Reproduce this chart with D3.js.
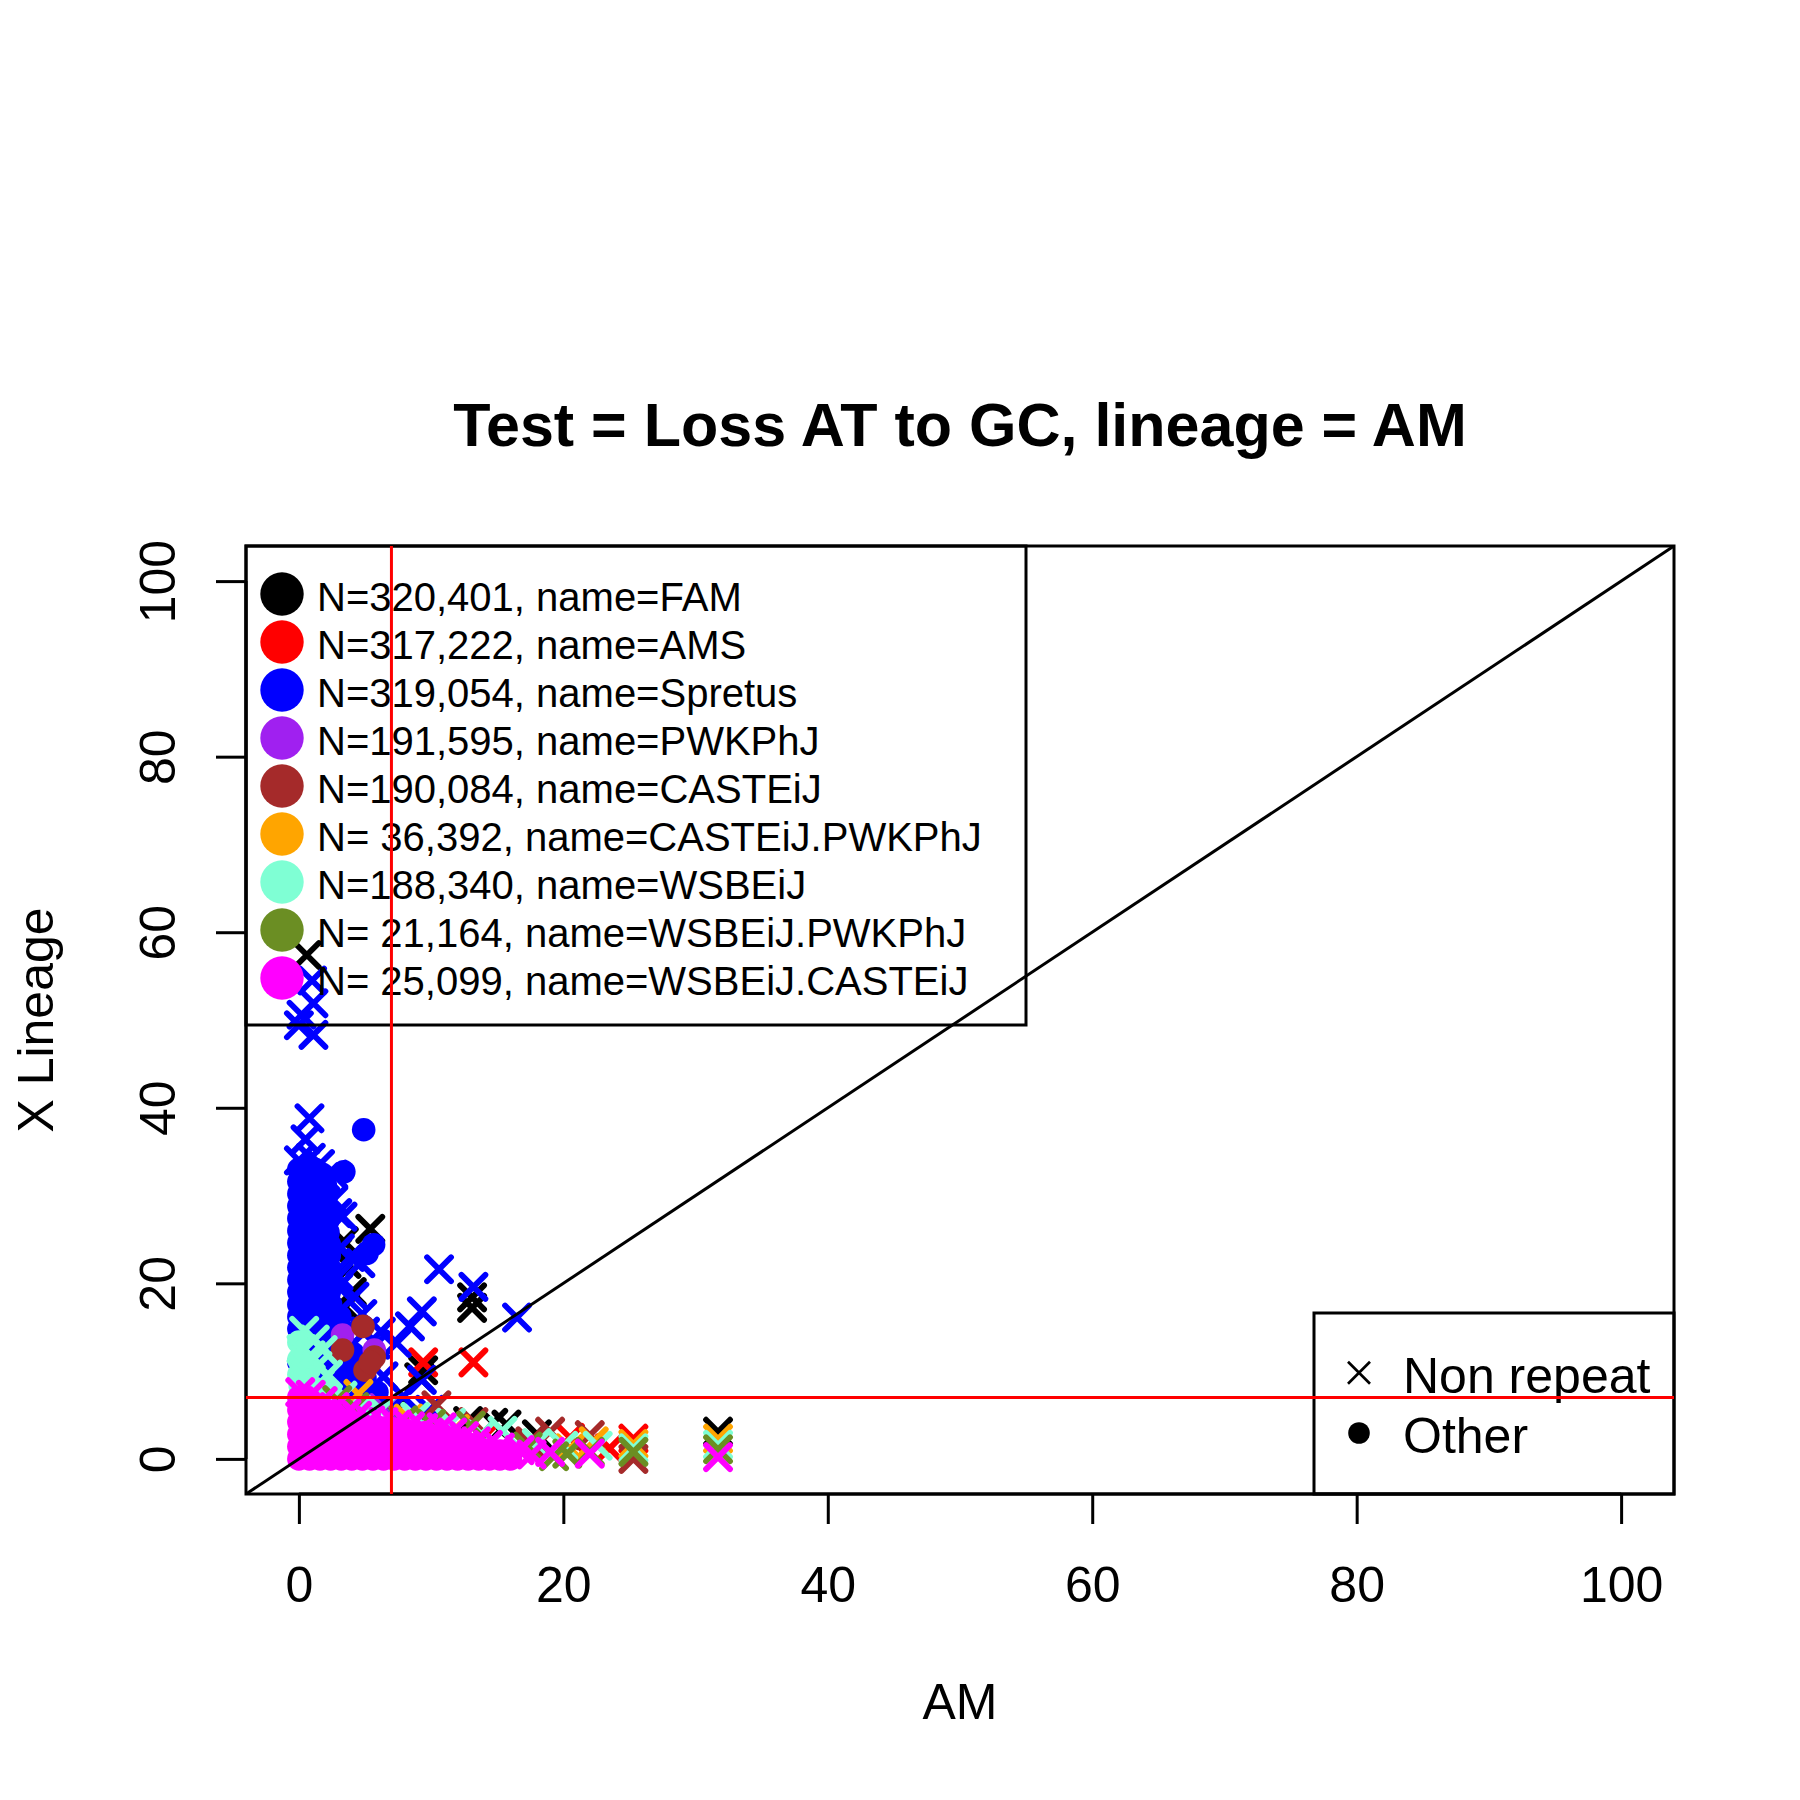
<!DOCTYPE html>
<html>
<head>
<meta charset="utf-8">
<script src="https://cdn.jsdelivr.net/npm/d3@7"></script>
<style>
  html, body { margin: 0; padding: 0; background: #fff; }
  svg { display: block; }
  text { font-family: "Liberation Sans", Arial, Helvetica, sans-serif; }
</style>
</head>
<body>
<svg id="chart" width="1800" height="1800"></svg>
<script>
// ---------------- data ----------------
const title = "Test = Loss AT to GC, lineage = AM";
const xLabel = "AM";
const yLabel = "X Lineage";
const xTicks = [0, 20, 40, 60, 80, 100];
const yTicks = [0, 20, 40, 60, 80, 100];
const thresholdX = 7;
const thresholdY = 7;

const seriesNames = ["FAM", "AMS", "Spretus", "PWKPhJ", "CASTEiJ", "CASTEiJ.PWKPhJ", "WSBEiJ", "WSBEiJ.PWKPhJ", "WSBEiJ.CASTEiJ"];
const seriesCounts = ["320,401", "317,222", "319,054", "191,595", "190,084", " 36,392", "188,340", " 21,164", " 25,099"];
const seriesColors = ["#000000", "#FF0000", "#0000FF", "#A020F0", "#A52A2A", "#FFA500", "#7FFFD4", "#6B8E23", "#FF00FF"];
const shapeLabels = ["Non repeat", "Other"];

// FAM
const famX = [[0.6,57.4],[1.9,26.1],[5.4,26.2],[3.4,24.8],[2.9,23.6],[3.6,22.2],[3.0,20.6],[4.0,19.0],[3.5,17.3],
  [13.1,18.4],[13.1,17.2],[9.4,10.1],[9.1,9.3],[12.8,4.3],[14.7,4.1],[15.7,3.9],[18.0,2.8],[31.7,3.1],[11.0,3.6],[7.0,5.0]];
const famDot = [[1.0,20.0],[0.5,15.0]];
// AMS
const amsX = [[9.4,11.0],[13.2,11.0],[25.3,2.3],[20.5,2.4],[17.5,1.6],[23.5,1.2],[14.0,2.5]];
const amsDot = [[1.0,5.0]];
// Spretus
const spretusDot = [
  [0,33.0],[0.6,33.2],[1.2,33.0],[1.8,32.4],
  [0,31.6],[0.6,31.6],[1.3,31.6],[2.0,31.2],
  [0,30.2],[0.7,30.2],[1.4,30.2],[2.1,30.0],
  [0,28.8],[0.7,28.8],[1.4,28.8],[2.1,28.6],
  [0,27.4],[0.7,27.4],[1.4,27.4],[2.2,27.2],
  [0,26.0],[0.7,26.0],[1.5,26.0],[2.2,25.8],
  [0,24.6],[0.7,24.6],[1.5,24.6],[2.3,24.4],
  [0,23.2],[0.7,23.2],[1.5,23.2],[2.3,23.2],
  [0,21.8],[0.7,21.8],[1.5,21.8],[2.3,21.8],
  [0,20.4],[0.7,20.4],[1.5,20.4],[2.3,20.4],
  [0,19.0],[0.7,19.0],[1.5,19.0],[2.3,19.0],
  [0,17.6],[0.7,17.6],[1.5,17.6],[2.4,17.6],
  [0,16.2],[0.8,16.2],[1.6,16.2],[2.4,16.2],[3.1,16.2],
  [0,14.8],[0.8,14.8],[1.6,14.8],[2.4,14.8],[3.2,14.8],
  [1.6,13.4],[2.4,13.4],[3.3,13.4],[0.8,12.6],
  [1.6,12.0],[2.4,12.0],[3.3,12.0],[4.1,12.0],
  [0,11.0],[2.4,10.6],[3.3,10.6],[4.2,10.6],[0.8,10.0],
  [1.6,9.4],[2.5,9.2],[3.4,9.2],[4.3,9.2],[5.0,9.2],
  [3.0,7.8],[4.0,7.8],[5.0,7.8],[5.9,7.6],
  [4.0,6.4],[5.0,6.4],[5.8,6.4],
  [4.9,37.5],[3.4,32.7],[5.65,24.4],[5.15,23.4]];
const spretusX = [[1.0,54.5],[1.1,51.9],[0.2,50.6],[0.0,49.4],[1.1,48.3],[0.8,38.8],[0.5,36.4],[0.0,34.0],
  [0.9,34.3],[1.6,33.6],[2.6,32.4],
  [2.0,32.1],[2.6,29.5],[3.3,27.6],[2.9,28.0],[3.1,24.0],[3.9,23.0],[4.65,22.3],[3.0,20.8],[3.0,19.6],
  [10.6,21.6],[13.2,19.6],[16.5,16.1],[9.3,16.8],[8.4,15.1],[6.2,14.5],[7.4,13.2],[5.8,13.0],
  [6.4,9.4],[9.3,9.0],[7.9,7.1],[9.9,5.6],[4.8,16.5],[4.2,18.5],[5.0,14.5]];
// PWKPhJ
const pwkX = [[6.4,5.8],[2.0,7.2]];
const pwkDot = [[3.3,14.1],[5.7,12.4]];
// CASTEiJ
const castX = [[10.4,6.1],[13.2,4.2],[19.0,3.1],[22.0,2.7],[25.3,0.0],[17.5,2.0],[1.5,7.5]];
const castDot = [[4.85,15.1],[3.3,12.4],[5.7,11.6],[5.0,10.1],[5.4,11.0]];
// CASTEiJ.PWKPhJ
const castPwkX = [[4.5,7.4],[8.3,4.6],[25.3,1.7],[31.7,2.3],[22.3,2.0],[20.5,1.2],[11.8,3.4]];
const castPwkDot = [[2.0,3.0]];
// WSBEiJ
const wsbX = [[0.4,14.6],[1.2,13.6],[0.2,12.5],[0.9,11.8],[1.8,12.4],[0.3,10.2],[1.4,10.6],[2.2,9.6],[0.6,9.0],
  [1.6,8.6],[3.3,7.2],[6.2,5.6],[8.8,4.8],[11.5,4.1],[15.4,3.2],[22.6,1.5],[25.3,1.2],[31.7,1.6],[18.0,1.8],
  [20.0,1.5],[13.8,2.8]];
const wsbDot = [[0,13.3],[0,11.3],[0,9.6],[0.8,10.2],[0.1,8.3],[1.2,8.0],[2.0,7.8],[2.6,7.0],[4.8,5.8]];
// WSBEiJ.PWKPhJ
const wsbPwkX = [[2.9,6.7],[4.2,5.9],[7.9,4.4],[13.0,3.8],[17.3,1.4],[20.3,0.6],[22.0,0.8],[25.3,0.8],
  [31.7,1.1],[19.3,0.3],[10.0,4.0]];
const wsbPwkDot = [[1.0,4.0]];
// WSBEiJ.CASTEiJ
const wsbCastDot = [
  [0,0],[0,1.4],[0,2.8],[0,4.2],[0,5.6],[0,7.0],
  [0.8,0],[0.8,1.4],[0.8,2.8],[0.8,4.2],[0.8,5.6],[0.8,6.8],
  [1.6,0],[1.6,1.4],[1.6,2.8],[1.6,4.2],[1.6,5.6],
  [2.4,0],[2.4,1.4],[2.4,2.8],[2.4,4.2],[2.4,5.2],
  [3.2,0],[3.2,1.4],[3.2,2.8],[3.2,4.2],
  [4.0,0],[4.0,1.4],[4.0,2.8],[4.0,4.0],
  [4.8,0],[4.8,1.4],[4.8,2.8],[4.8,3.8],
  [5.6,0],[5.6,1.4],[5.6,2.8],[5.6,3.6],
  [6.4,0],[6.4,1.4],[6.4,2.6],[6.4,3.5],
  [7.2,0],[7.2,1.4],[7.2,2.6],[7.2,3.4],
  [8.0,0],[8.0,1.4],[8.0,2.6],[8.0,3.3],
  [8.8,0],[8.8,1.4],[8.8,2.6],[8.8,3.1],
  [9.6,0],[9.6,1.4],[9.6,2.6],[9.6,3.0],
  [10.4,0],[10.4,1.4],[10.4,2.6],
  [11.2,0],[11.2,1.4],[11.2,2.4],
  [12.0,0],[12.0,1.3],[12.0,2.1],
  [12.8,0],[12.8,1.2],[12.8,1.7],
  [13.6,0],[13.6,1.2],
  [14.4,0],[14.4,1.0],
  [15.2,0],[15.2,0.9],
  [16.0,0],[16.0,0.7]];
const wsbCastX = [[0.1,7.6],[0.9,7.3],[1.8,6.6],[2.7,5.9],[3.6,5.2],[4.4,4.9],[5.4,4.4],[6.4,4.2],[7.4,3.9],
  [8.4,3.7],[9.4,3.5],[10.8,3.6],[11.6,3.0],[12.5,2.6],[13.4,2.0],[14.3,1.6],[15.2,1.3],[16.7,1.0],
  [17.6,0.5],[19.0,0.8],[22.0,0.6],[31.7,0.2]];

const seriesX = [famX, amsX, spretusX, pwkX, castX, castPwkX, wsbX, wsbPwkX, wsbCastX];
const seriesDot = [famDot, amsDot, spretusDot, pwkDot, castDot, castPwkDot, wsbDot, wsbPwkDot, wsbCastDot];

// ---------------- layout ----------------
const L = 246, R = 1674, T = 546, B = 1494;
const svg = d3.select("#chart");
svg.append("rect").attr("width", 1800).attr("height", 1800).attr("fill", "#fff");

const x = d3.scaleLinear().domain([-4, 104]).range([L, R]);
const y = d3.scaleLinear().domain([-4, 104]).range([B, T]);

svg.append("defs").append("clipPath").attr("id", "plotclip")
  .append("rect").attr("x", L).attr("y", T).attr("width", R - L).attr("height", B - T);

const plot = svg.append("g").attr("clip-path", "url(#plotclip)");

const arm = 12;
function xPath(px, py, a) {
  return `M${px - a},${py - a}L${px + a},${py + a}M${px - a},${py + a}L${px + a},${py - a}`;
}

seriesNames.forEach((name, i) => {
  const g = plot.append("g");
  g.selectAll("circle").data(seriesDot[i]).enter().append("circle")
    .attr("cx", d => x(d[0])).attr("cy", d => y(d[1])).attr("r", 11.8)
    .attr("fill", seriesColors[i]);
  g.selectAll("path").data(seriesX[i]).enter().append("path")
    .attr("d", d => xPath(x(d[0]), y(d[1]), arm))
    .attr("stroke", seriesColors[i]).attr("stroke-width", 5.8)
    .attr("stroke-linecap", "round").attr("fill", "none");
});

// diagonal y = x
plot.append("line")
  .attr("x1", x(-4)).attr("y1", y(-4)).attr("x2", x(104)).attr("y2", y(104))
  .attr("stroke", "#000").attr("stroke-width", 3);

// ---------------- axes ----------------
const fontFam = '"Liberation Sans", Arial, Helvetica, sans-serif';
const gx = svg.append("g").attr("transform", `translate(0,${B})`)
  .call(d3.axisBottom(x).tickValues(xTicks).tickSize(30).tickFormat(d3.format("d")));
gx.select(".domain").remove();
gx.attr("font-size", 50).attr("font-family", fontFam);
gx.selectAll(".tick line").attr("stroke", "#000").attr("stroke-width", 3);
gx.selectAll(".tick text").attr("y", 108).attr("dy", null).attr("fill", "#000");
gx.append("line").attr("x1", x(xTicks[0])).attr("x2", x(xTicks[xTicks.length - 1]))
  .attr("y1", 0).attr("y2", 0).attr("stroke", "#000").attr("stroke-width", 3);

const gy = svg.append("g").attr("transform", `translate(${L},0)`)
  .call(d3.axisLeft(y).tickValues(yTicks).tickSize(30).tickFormat(d3.format("d")));
gy.select(".domain").remove();
gy.attr("font-size", 50).attr("font-family", fontFam);
gy.selectAll(".tick line").attr("stroke", "#000").attr("stroke-width", 3);
gy.selectAll(".tick text").attr("x", null).attr("dy", null).attr("y", null)
  .attr("text-anchor", "middle").attr("fill", "#000")
  .attr("transform", "translate(-71,0) rotate(-90)");
gy.append("line").attr("y1", y(yTicks[0])).attr("y2", y(yTicks[yTicks.length - 1]))
  .attr("x1", 0).attr("x2", 0).attr("stroke", "#000").attr("stroke-width", 3);

// plot frame
svg.append("rect").attr("x", L).attr("y", T).attr("width", R - L).attr("height", B - T)
  .attr("fill", "none").attr("stroke", "#000").attr("stroke-width", 3);

// titles
svg.append("text").attr("x", (L + R) / 2).attr("y", 446).attr("text-anchor", "middle")
  .attr("font-size", 61).attr("font-weight", "bold").text(title);
svg.append("text").attr("x", (L + R) / 2).attr("y", 1719).attr("text-anchor", "middle")
  .attr("font-size", 50).text(xLabel);
svg.append("text").attr("transform", `translate(53,${(T + B) / 2}) rotate(-90)`)
  .attr("text-anchor", "middle").attr("font-size", 50).text(yLabel);

// ---------------- legend 1 ----------------
const leg1 = svg.append("g");
leg1.append("rect").attr("x", L).attr("y", T).attr("width", 1026 - L).attr("height", 1025 - T)
  .attr("fill", "none").attr("stroke", "#000").attr("stroke-width", 3);
const rowY = d3.scaleLinear().domain([0, 8]).range([594, 978]);
seriesNames.forEach((name, i) => {
  leg1.append("circle").attr("cx", 282).attr("cy", rowY(i)).attr("r", 21.7).attr("fill", seriesColors[i]);
  leg1.append("text").attr("x", 317).attr("y", rowY(i) + 16.5).attr("font-size", 40)
    .attr("xml:space", "preserve").style("white-space", "pre")
    .text(`N=${seriesCounts[i]}, name=${name}`);
});

// ---------------- legend 2 ----------------
const leg2 = svg.append("g");
leg2.append("rect").attr("x", 1314).attr("y", 1313).attr("width", R - 1314).attr("height", B - 1313)
  .attr("fill", "none").attr("stroke", "#000").attr("stroke-width", 3);
const row2 = [1372.7, 1433];
leg2.append("path").attr("d", xPath(1359, row2[0], 11)).attr("stroke", "#000")
  .attr("stroke-width", 2.7).attr("fill", "none");
leg2.append("circle").attr("cx", 1359).attr("cy", row2[1]).attr("r", 10.8).attr("fill", "#000");
shapeLabels.forEach((lab, i) => {
  leg2.append("text").attr("x", 1403).attr("y", row2[i] + 20).attr("font-size", 50).text(lab);
});

// ---------------- threshold lines ----------------
const thr = svg.append("g").attr("clip-path", "url(#plotclip)");
thr.append("line").attr("x1", x(thresholdX)).attr("x2", x(thresholdX)).attr("y1", T).attr("y2", B)
  .attr("stroke", "#FF0000").attr("stroke-width", 3);
thr.append("line").attr("y1", y(thresholdY)).attr("y2", y(thresholdY)).attr("x1", L).attr("x2", R)
  .attr("stroke", "#FF0000").attr("stroke-width", 3);
</script>
</body>
</html>
